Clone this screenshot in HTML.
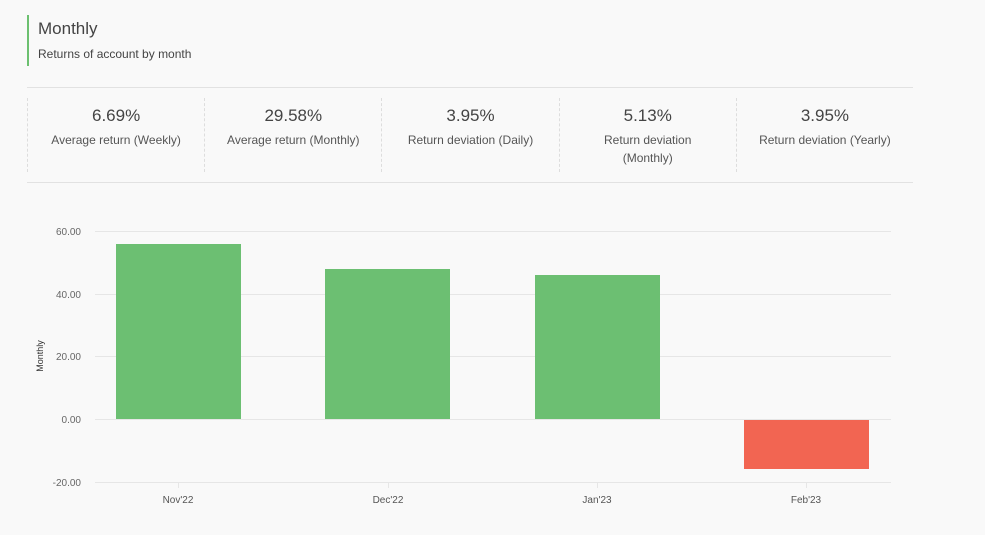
<!DOCTYPE html>
<html><head><style>
body{margin:0;width:985px;height:535px;background:#f9f9f9;font-family:"Liberation Sans",sans-serif;position:relative;overflow:hidden;color:#444}
.t{position:absolute;left:27px;top:15px;border-left:2px solid #6cc070;height:51px;padding-left:9px}
.t h1{margin:0;font-weight:normal;font-size:17px;color:#444;margin-top:4px}
.t p{margin:8px 0 0;font-size:12px;color:#444}
.stats{position:absolute;left:27px;top:87px;width:886px;height:94px;border-top:1px solid #e2e2e2;border-bottom:1px solid #e2e2e2;display:flex}
.s{flex:1;text-align:center;border-left:1px dashed #ddd;margin:10px 0;padding-top:8px}
.s b{display:block;font-weight:normal;font-size:17px;color:#444}
.s span{display:block;font-size:12px;color:#555;margin-top:5px;line-height:18px}
</style></head><body>
<div class="t"><h1>Monthly</h1><p>Returns of account by month</p></div>
<div class="stats">
<div class="s"><b>6.69%</b><span>Average return (Weekly)</span></div>
<div class="s"><b>29.58%</b><span>Average return (Monthly)</span></div>
<div class="s"><b>3.95%</b><span>Return deviation (Daily)</span></div>
<div class="s"><b>5.13%</b><span>Return deviation<br>(Monthly)</span></div>
<div class="s"><b>3.95%</b><span>Return deviation (Yearly)</span></div>
</div>
<svg style="position:absolute;left:0;top:0" width="985" height="535" font-family="Liberation Sans, sans-serif">
<g stroke="#e6e6e6" stroke-width="1">
<line x1="95" x2="891" y1="231.5" y2="231.5"/><line x1="95" x2="891" y1="294.5" y2="294.5"/>
<line x1="95" x2="891" y1="356.5" y2="356.5"/><line x1="95" x2="891" y1="419.5" y2="419.5"/>
<line x1="95" x2="891" y1="482.5" y2="482.5"/>
<line x1="178.5" x2="178.5" y1="483" y2="488"/><line x1="388.5" x2="388.5" y1="483" y2="488"/>
<line x1="597.5" x2="597.5" y1="483" y2="488"/><line x1="806.5" x2="806.5" y1="483" y2="488"/>
</g>
<g font-size="10" fill="#666" text-anchor="end">
<text x="81" y="235">60.00</text><text x="81" y="298">40.00</text><text x="81" y="360">20.00</text>
<text x="81" y="423">0.00</text><text x="81" y="486">-20.00</text></g>
<text transform="translate(43,356) rotate(-90)" font-size="9" fill="#333" text-anchor="middle">Monthly</text>
<rect x="116" y="244" width="125" height="175" fill="#6cbf72"/>
<rect x="325" y="269" width="125" height="150" fill="#6cbf72"/>
<rect x="535" y="275" width="125" height="144" fill="#6cbf72"/>
<rect x="744" y="420" width="125" height="49" fill="#f26552"/>
<g font-size="10" fill="#555" text-anchor="middle">
<text x="178" y="503">Nov'22</text><text x="388" y="503">Dec'22</text><text x="597" y="503">Jan'23</text><text x="806" y="503">Feb'23</text></g>
</svg>
</body></html>
